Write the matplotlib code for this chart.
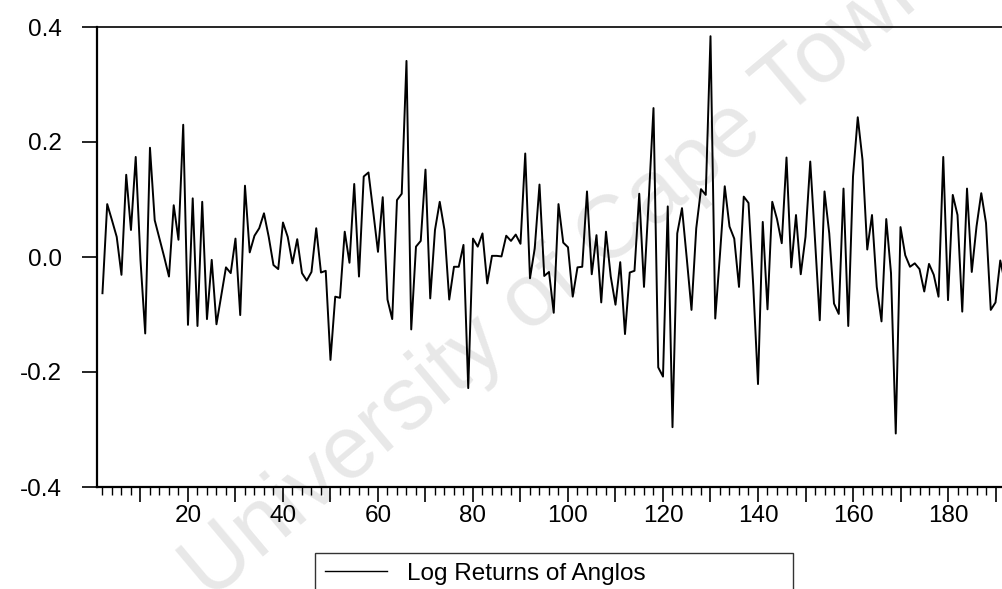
import matplotlib
matplotlib.use("Agg")
import matplotlib.pyplot as plt
from matplotlib.ticker import MultipleLocator, FuncFormatter
import numpy as np

plt.rcParams['font.family'] = ['Liberation Sans', 'DejaVu Sans']
plt.rcParams['axes.unicode_minus'] = False

# log returns, observations 2..192
log_returns = [
    -0.063, 0.092, 0.064, 0.035, -0.031, 0.143, 0.047, 0.174, -0.005, -0.133,
    0.190, 0.064, 0.032, 0.000, -0.034, 0.090, 0.030, 0.230, -0.118, 0.102,
    -0.120, 0.096, -0.108, -0.005, -0.117, -0.067, -0.018, -0.028, 0.032, -0.101,
    0.124, 0.008, 0.037, 0.050, 0.076, 0.035, -0.014, -0.021, 0.060, 0.035,
    -0.011, 0.031, -0.028, -0.041, -0.026, 0.050, -0.027, -0.024, -0.179, -0.069,
    -0.071, 0.044, -0.010, 0.127, -0.034, 0.140, 0.147, 0.079, 0.009, 0.104,
    -0.074, -0.108, 0.099, 0.110, 0.341, -0.126, 0.018, 0.028, 0.152, -0.072,
    0.047, 0.096, 0.047, -0.074, -0.017, -0.017, 0.021, -0.228, 0.032, 0.018,
    0.041, -0.046, 0.002, 0.002, 0.001, 0.037, 0.028, 0.039, 0.023, 0.180,
    -0.037, 0.015, 0.126, -0.033, -0.026, -0.097, 0.092, 0.025, 0.017, -0.069,
    -0.018, -0.017, 0.114, -0.030, 0.038, -0.079, 0.044, -0.034, -0.083, -0.009,
    -0.134, -0.027, -0.024, 0.110, -0.052, 0.100, 0.259, -0.192, -0.208, 0.088,
    -0.296, 0.041, 0.085, -0.002, -0.092, 0.050, 0.118, 0.108, 0.384, -0.107,
    0.005, 0.123, 0.053, 0.032, -0.052, 0.105, 0.094, -0.050, -0.221, 0.061,
    -0.091, 0.096, 0.066, 0.024, 0.173, -0.018, 0.073, -0.030, 0.035, 0.166,
    0.030, -0.110, 0.114, 0.041, -0.081, -0.099, 0.119, -0.120, 0.140, 0.243,
    0.169, 0.013, 0.073, -0.052, -0.112, 0.066, -0.028, -0.307, 0.052, 0.003,
    -0.017, -0.011, -0.021, -0.060, -0.012, -0.031, -0.069, 0.174, -0.075, 0.108,
    0.073, -0.095, 0.119, -0.026, 0.053, 0.111, 0.059, -0.092, -0.079, -0.006,
    -0.045,
]
obs = np.arange(2, 2 + len(log_returns))
y_ticks = [-0.4, -0.2, 0.0, 0.2, 0.4]
series_name = 'Log Returns of Anglos'

fig = plt.figure(figsize=(10.02, 5.89), dpi=100)
ax = fig.add_axes([97 / 1002, 102 / 589, 913 / 1002, 460 / 589])
ax.set_facecolor('none')

# watermark behind the chart
fig.text(0.56, 0.53, 'University of Cape Town', rotation=40, fontsize=64,
         color='#e8e8e8', ha='center', va='center', zorder=-1)

ax.plot(obs, log_returns, color='black', linewidth=1.4, label=series_name)

ax.set_xlim(0.85, 193.05)
ax.set_ylim(-0.4, 0.4)
ax.set_yticks(y_ticks)
ax.yaxis.set_major_formatter(FuncFormatter(lambda v, p: f'{v:.1f}'))
ax.xaxis.set_major_locator(MultipleLocator(10))
ax.xaxis.set_minor_locator(MultipleLocator(2))
ax.xaxis.set_major_formatter(FuncFormatter(lambda v, p: f'{int(v)}' if int(round(v)) % 20 == 0 and v > 0 else ''))

ax.tick_params(axis='both', which='major', direction='out', length=11, width=1.2,
               labelsize=17.5, color='black')
ax.tick_params(axis='x', which='minor', direction='out', length=6, width=1.0)
ax.tick_params(axis='y', pad=14)
ax.tick_params(axis='x', pad=2)

ax.spines['left'].set_linewidth(1.6)
ax.spines['bottom'].set_linewidth(1.6)
ax.spines['top'].set_linewidth(1.2)
ax.spines['right'].set_visible(False)

leg = fig.legend(loc='upper left', bbox_to_anchor=(315 / 1002, 1 - 553 / 589, 478 / 1002, 0),
                 mode='expand', frameon=True, fancybox=False, fontsize=17.5,
                 handlelength=2.55, borderpad=0.4, handletextpad=0.85, borderaxespad=0)
leg.get_frame().set_edgecolor('black')
leg.get_frame().set_linewidth(1.0)
for h in leg.get_lines():
    h.set_linewidth(1.0)

fig.savefig('out.png', dpi=100)
